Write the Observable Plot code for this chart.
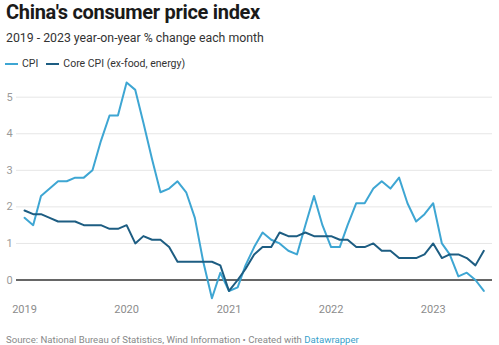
<!DOCTYPE html>
<html>
<head>
<meta charset="utf-8">
<script src="https://cdn.jsdelivr.net/npm/d3@7"></script>
<script src="https://cdn.jsdelivr.net/npm/@observablehq/plot@0.6"></script>
<style>
  html, body { margin: 0; padding: 0; background: #fff; }
  body { width: 499px; height: 345px; overflow: hidden; font-family: Roboto, "Noto Sans", sans-serif; position: relative; }
  #title { position: absolute; left: 6px; top: 0px; font-size: 20px; font-weight: 700; color: #1a1a1a; line-height: 24px; letter-spacing: -0.3px; }
  #subtitle { position: absolute; left: 6px; top: 30px; font-size: 12.3px; color: #333; line-height: 16px; }
  #legend { position: absolute; left: 5px; top: 57px; font-size: 10.5px; color: #333; line-height: 13px; display: flex; gap: 8px; }
  #legend span.item { display: inline-flex; align-items: center; }
  #legend span.sw { display: inline-block; width: 13px; height: 2px; margin-right: 4px; }
  #chart { position: absolute; left: 0; top: 78px; }
  #footer { position: absolute; left: 6px; top: 334px; font-size: 9.6px; color: #888; line-height: 12px; }
  #footer a { color: #3a9fcb; text-decoration: none; }
</style>
</head>
<body>
<div id="title">China's consumer price index</div>
<div id="subtitle">2019 - 2023 year-on-year % change each month</div>
<div id="legend"></div>
<div id="chart"></div>
<div id="footer">Source: National Bureau of Statistics, Wind Information • Created with <a>Datawrapper</a></div>
<script>
const months = [
  "2019-01","2019-02","2019-03","2019-04","2019-05","2019-06","2019-07","2019-08","2019-09","2019-10","2019-11","2019-12",
  "2020-01","2020-02","2020-03","2020-04","2020-05","2020-06","2020-07","2020-08","2020-09","2020-10","2020-11","2020-12",
  "2021-01","2021-02","2021-03","2021-04","2021-05","2021-06","2021-07","2021-08","2021-09","2021-10","2021-11","2021-12",
  "2022-01","2022-02","2022-03","2022-04","2022-05","2022-06","2022-07","2022-08","2022-09","2022-10","2022-11","2022-12",
  "2023-01","2023-02","2023-03","2023-04","2023-05","2023-06","2023-07"
];
const cpi = [
  1.7,1.5,2.3,2.5,2.7,2.7,2.8,2.8,3.0,3.8,4.5,4.5,
  5.4,5.2,4.3,3.3,2.4,2.5,2.7,2.4,1.7,0.5,-0.5,0.2,
  -0.3,-0.2,0.4,0.9,1.3,1.1,1.0,0.8,0.7,1.5,2.3,1.5,
  0.9,0.9,1.5,2.1,2.1,2.5,2.7,2.5,2.8,2.1,1.6,1.8,
  2.1,1.0,0.7,0.1,0.2,0.0,-0.3
];
const core = [
  1.9,1.8,1.8,1.7,1.6,1.6,1.6,1.5,1.5,1.5,1.4,1.4,
  1.5,1.0,1.2,1.1,1.1,0.9,0.5,0.5,0.5,0.5,0.5,0.4,
  -0.3,0.0,0.3,0.7,0.9,0.9,1.3,1.2,1.2,1.3,1.2,1.2,
  1.2,1.1,1.1,0.9,0.9,1.0,0.8,0.8,0.6,0.6,0.6,0.7,
  1.0,0.6,0.7,0.7,0.6,0.4,0.8
];
const seriesNames = ["CPI", "Core CPI (ex-food, energy)"];
const seriesColors = ["#3ea6d3", "#1d5d82"];
const yTicks = [0, 1, 2, 3, 4, 5];
const xTickLabels = ["2019", "2020", "2021", "2022", "2023"];

const parse = s => new Date(Date.UTC(+s.slice(0,4), +s.slice(5,7) - 1, 1));
const rows = [];
months.forEach((m, i) => {
  rows.push({date: parse(m), value: cpi[i], series: seriesNames[0]});
  rows.push({date: parse(m), value: core[i], series: seriesNames[1]});
});
const xTicks = xTickLabels.map(y => new Date(Date.UTC(+y, 0, 1)));

// legend
const legend = document.getElementById("legend");
seriesNames.forEach((n, i) => {
  const it = document.createElement("span");
  it.className = "item";
  const sw = document.createElement("span");
  sw.className = "sw";
  sw.style.background = seriesColors[i];
  it.appendChild(sw);
  it.appendChild(document.createTextNode(n));
  legend.appendChild(it);
});

const chart = Plot.plot({
  width: 499,
  height: 245,
  marginLeft: 16,
  marginRight: 7,
  marginTop: 0,
  marginBottom: 20,
  style: {fontFamily: "Roboto, sans-serif", fontSize: "11px", background: "transparent"},
  x: {type: "utc", domain: [xTicks[0], xTicks[xTicks.length - 1]], range: [24, 432.7]},
  y: {domain: [0, 5], range: [201.5, 18.7]},
  color: {domain: seriesNames, range: seriesColors},
  marks: [
    Plot.ruleY(yTicks.filter(d => d !== 0), {stroke: "#e6e6e6", strokeWidth: 1}),
    Plot.axisY({ticks: yTicks, tickFormat: d => String(d), tickSize: 0, tickPadding: 10, textAnchor: "start", fill: "#9a9a9a", label: null, fontSize: 11}),
    Plot.axisX({ticks: xTicks, tickFormat: d => String(d.getUTCFullYear()), tickSize: 0, tickPadding: 2, fill: "#8c8c8c", label: null, fontSize: 11}),
    Plot.ruleY([0], {stroke: "#333", strokeWidth: 1.5}),
    Plot.line(rows, {x: "date", y: "value", z: "series", stroke: "series", strokeWidth: 2, curve: "linear"})
  ]
});
document.getElementById("chart").appendChild(chart);
</script>
</body>
</html>
